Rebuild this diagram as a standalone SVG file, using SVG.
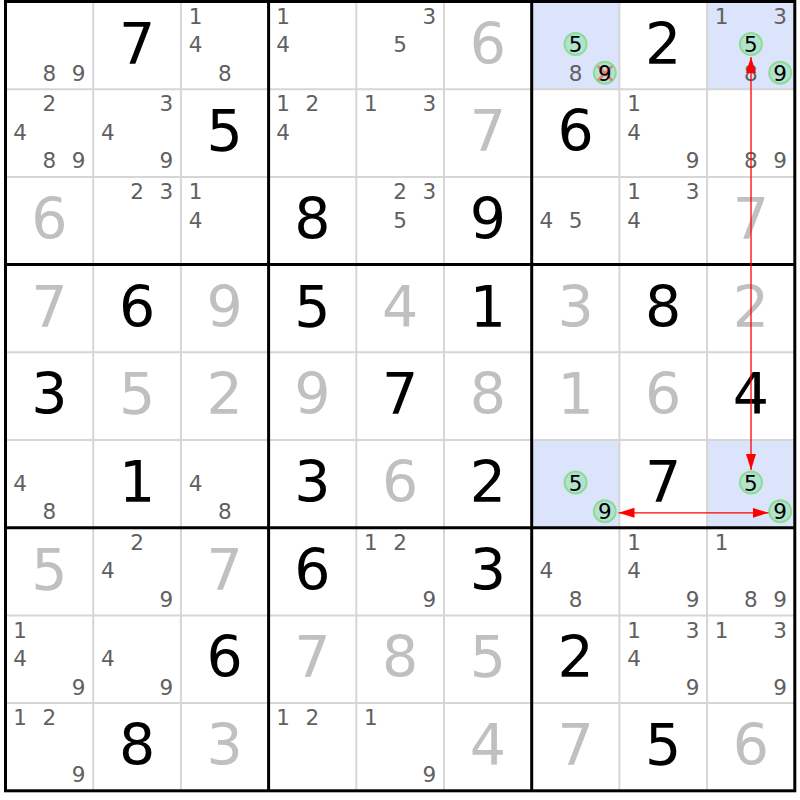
<svg xmlns="http://www.w3.org/2000/svg" width="800" height="800" viewBox="0 0 800 800">
<style>
text{font-family:"DejaVu Sans","Liberation Sans",sans-serif;text-anchor:middle}
.c{font-size:21.5px;fill:#606060}
.k{font-size:21.5px;fill:#000}
.g{font-size:57px;fill:#000}
.s{font-size:57px;fill:#c0c0c0}
.hl{fill:#dbe4fb}
.ring{fill:#b3e3cf;stroke:#8cdc96;stroke-width:2}
.thin{stroke:#d6d6d6;stroke-width:2}
.thick{stroke:#000;stroke-width:3}
.x{stroke:#f07a7a;stroke-width:2.5}
.arrow{stroke:#ff0000;stroke-width:1.3;fill:none}
</style>
<defs>
<marker id="ah" markerUnits="userSpaceOnUse" markerWidth="17" markerHeight="11" refX="16" refY="5" orient="auto-start-reverse" viewBox="0 0 17 11">
<path d="M0,0 L16,5 L0,10 z" fill="#ff0000"/>
</marker>
</defs>
<rect x="0" y="0" width="800" height="800" fill="#fff"/>
<g id="cells">
<g id="r1c1" transform="translate(5.5,1.5)"><text class="c" x="43.85" y="79.3">8</text><text class="c" x="73.1" y="79.3">9</text></g>
<g id="r1c2" transform="translate(93.2,1.5)"><text class="g" x="43.85" y="62">7</text></g>
<g id="r1c3" transform="translate(180.9,1.5)"><text class="c" x="14.6" y="22.3">1</text><text class="c" x="14.6" y="50.8">4</text><text class="c" x="43.85" y="79.3">8</text></g>
<g id="r1c4" transform="translate(268.6,1.5)"><text class="c" x="14.6" y="22.3">1</text><text class="c" x="14.6" y="50.8">4</text></g>
<g id="r1c5" transform="translate(356.3,1.5)"><text class="c" x="73.1" y="22.3">3</text><text class="c" x="43.85" y="50.8">5</text></g>
<g id="r1c6" transform="translate(444,1.5)"><text class="s" x="43.85" y="62">6</text></g>
<g id="r1c7" transform="translate(531.7,1.5)"><rect class="hl" width="87.7" height="87.7"/><circle class="ring" cx="43.85" cy="42.6" r="11"/><text class="k" x="43.85" y="50.5">5</text><text class="c" x="43.85" y="79.3">8</text><circle class="ring" cx="73.1" cy="71.2" r="11"/><path class="x" d="M66.1,64.5 L80.6,79 M80.6,64.5 L66.1,79"/><text class="k" x="73.1" y="79">9</text></g>
<g id="r1c8" transform="translate(619.4,1.5)"><text class="g" x="43.85" y="62">2</text></g>
<g id="r1c9" transform="translate(707.1,1.5)"><rect class="hl" width="87.7" height="87.7"/><text class="c" x="14.6" y="22.3">1</text><text class="c" x="73.1" y="22.3">3</text><circle class="ring" cx="43.85" cy="42.6" r="11"/><text class="k" x="43.85" y="50.5">5</text><text class="c" x="43.85" y="79.3">8</text><circle class="ring" cx="73.1" cy="71.2" r="11"/><text class="k" x="73.1" y="79">9</text></g>

<g id="r2c1" transform="translate(5.5,89.2)"><text class="c" x="43.85" y="22.3">2</text><text class="c" x="14.6" y="50.8">4</text><text class="c" x="43.85" y="79.3">8</text><text class="c" x="73.1" y="79.3">9</text></g>
<g id="r2c2" transform="translate(93.2,89.2)"><text class="c" x="73.1" y="22.3">3</text><text class="c" x="14.6" y="50.8">4</text><text class="c" x="73.1" y="79.3">9</text></g>
<g id="r2c3" transform="translate(180.9,89.2)"><text class="g" x="43.85" y="62">5</text></g>
<g id="r2c4" transform="translate(268.6,89.2)"><text class="c" x="14.6" y="22.3">1</text><text class="c" x="43.85" y="22.3">2</text><text class="c" x="14.6" y="50.8">4</text></g>
<g id="r2c5" transform="translate(356.3,89.2)"><text class="c" x="14.6" y="22.3">1</text><text class="c" x="73.1" y="22.3">3</text></g>
<g id="r2c6" transform="translate(444,89.2)"><text class="s" x="43.85" y="62">7</text></g>
<g id="r2c7" transform="translate(531.7,89.2)"><text class="g" x="43.85" y="62">6</text></g>
<g id="r2c8" transform="translate(619.4,89.2)"><text class="c" x="14.6" y="22.3">1</text><text class="c" x="14.6" y="50.8">4</text><text class="c" x="73.1" y="79.3">9</text></g>
<g id="r2c9" transform="translate(707.1,89.2)"><text class="c" x="43.85" y="79.3">8</text><text class="c" x="73.1" y="79.3">9</text></g>

<g id="r3c1" transform="translate(5.5,176.9)"><text class="s" x="43.85" y="62">6</text></g>
<g id="r3c2" transform="translate(93.2,176.9)"><text class="c" x="43.85" y="22.3">2</text><text class="c" x="73.1" y="22.3">3</text></g>
<g id="r3c3" transform="translate(180.9,176.9)"><text class="c" x="14.6" y="22.3">1</text><text class="c" x="14.6" y="50.8">4</text></g>
<g id="r3c4" transform="translate(268.6,176.9)"><text class="g" x="43.85" y="62">8</text></g>
<g id="r3c5" transform="translate(356.3,176.9)"><text class="c" x="43.85" y="22.3">2</text><text class="c" x="73.1" y="22.3">3</text><text class="c" x="43.85" y="50.8">5</text></g>
<g id="r3c6" transform="translate(444,176.9)"><text class="g" x="43.85" y="62">9</text></g>
<g id="r3c7" transform="translate(531.7,176.9)"><text class="c" x="14.6" y="50.8">4</text><text class="c" x="43.85" y="50.8">5</text></g>
<g id="r3c8" transform="translate(619.4,176.9)"><text class="c" x="14.6" y="22.3">1</text><text class="c" x="73.1" y="22.3">3</text><text class="c" x="14.6" y="50.8">4</text></g>
<g id="r3c9" transform="translate(707.1,176.9)"><text class="s" x="43.85" y="62">7</text></g>

<g id="r4c1" transform="translate(5.5,264.6)"><text class="s" x="43.85" y="62">7</text></g>
<g id="r4c2" transform="translate(93.2,264.6)"><text class="g" x="43.85" y="62">6</text></g>
<g id="r4c3" transform="translate(180.9,264.6)"><text class="s" x="43.85" y="62">9</text></g>
<g id="r4c4" transform="translate(268.6,264.6)"><text class="g" x="43.85" y="62">5</text></g>
<g id="r4c5" transform="translate(356.3,264.6)"><text class="s" x="43.85" y="62">4</text></g>
<g id="r4c6" transform="translate(444,264.6)"><text class="g" x="43.85" y="62">1</text></g>
<g id="r4c7" transform="translate(531.7,264.6)"><text class="s" x="43.85" y="62">3</text></g>
<g id="r4c8" transform="translate(619.4,264.6)"><text class="g" x="43.85" y="62">8</text></g>
<g id="r4c9" transform="translate(707.1,264.6)"><text class="s" x="43.85" y="62">2</text></g>

<g id="r5c1" transform="translate(5.5,352.3)"><text class="g" x="43.85" y="62">3</text></g>
<g id="r5c2" transform="translate(93.2,352.3)"><text class="s" x="43.85" y="62">5</text></g>
<g id="r5c3" transform="translate(180.9,352.3)"><text class="s" x="43.85" y="62">2</text></g>
<g id="r5c4" transform="translate(268.6,352.3)"><text class="s" x="43.85" y="62">9</text></g>
<g id="r5c5" transform="translate(356.3,352.3)"><text class="g" x="43.85" y="62">7</text></g>
<g id="r5c6" transform="translate(444,352.3)"><text class="s" x="43.85" y="62">8</text></g>
<g id="r5c7" transform="translate(531.7,352.3)"><text class="s" x="43.85" y="62">1</text></g>
<g id="r5c8" transform="translate(619.4,352.3)"><text class="s" x="43.85" y="62">6</text></g>
<g id="r5c9" transform="translate(707.1,352.3)"><text class="g" x="43.85" y="62">4</text></g>

<g id="r6c1" transform="translate(5.5,440)"><text class="c" x="14.6" y="50.8">4</text><text class="c" x="43.85" y="79.3">8</text></g>
<g id="r6c2" transform="translate(93.2,440)"><text class="g" x="43.85" y="62">1</text></g>
<g id="r6c3" transform="translate(180.9,440)"><text class="c" x="14.6" y="50.8">4</text><text class="c" x="43.85" y="79.3">8</text></g>
<g id="r6c4" transform="translate(268.6,440)"><text class="g" x="43.85" y="62">3</text></g>
<g id="r6c5" transform="translate(356.3,440)"><text class="s" x="43.85" y="62">6</text></g>
<g id="r6c6" transform="translate(444,440)"><text class="g" x="43.85" y="62">2</text></g>
<g id="r6c7" transform="translate(531.7,440)"><rect class="hl" width="87.7" height="87.7"/><circle class="ring" cx="43.85" cy="42.6" r="11"/><text class="k" x="43.85" y="50.5">5</text><circle class="ring" cx="73.1" cy="71.2" r="11"/><text class="k" x="73.1" y="79">9</text></g>
<g id="r6c8" transform="translate(619.4,440)"><text class="g" x="43.85" y="62">7</text></g>
<g id="r6c9" transform="translate(707.1,440)"><rect class="hl" width="87.7" height="87.7"/><circle class="ring" cx="43.85" cy="42.6" r="11"/><text class="k" x="43.85" y="50.5">5</text><circle class="ring" cx="73.1" cy="71.2" r="11"/><text class="k" x="73.1" y="79">9</text></g>

<g id="r7c1" transform="translate(5.5,527.7)"><text class="s" x="43.85" y="62">5</text></g>
<g id="r7c2" transform="translate(93.2,527.7)"><text class="c" x="43.85" y="22.3">2</text><text class="c" x="14.6" y="50.8">4</text><text class="c" x="73.1" y="79.3">9</text></g>
<g id="r7c3" transform="translate(180.9,527.7)"><text class="s" x="43.85" y="62">7</text></g>
<g id="r7c4" transform="translate(268.6,527.7)"><text class="g" x="43.85" y="62">6</text></g>
<g id="r7c5" transform="translate(356.3,527.7)"><text class="c" x="14.6" y="22.3">1</text><text class="c" x="43.85" y="22.3">2</text><text class="c" x="73.1" y="79.3">9</text></g>
<g id="r7c6" transform="translate(444,527.7)"><text class="g" x="43.85" y="62">3</text></g>
<g id="r7c7" transform="translate(531.7,527.7)"><text class="c" x="14.6" y="50.8">4</text><text class="c" x="43.85" y="79.3">8</text></g>
<g id="r7c8" transform="translate(619.4,527.7)"><text class="c" x="14.6" y="22.3">1</text><text class="c" x="14.6" y="50.8">4</text><text class="c" x="73.1" y="79.3">9</text></g>
<g id="r7c9" transform="translate(707.1,527.7)"><text class="c" x="14.6" y="22.3">1</text><text class="c" x="43.85" y="79.3">8</text><text class="c" x="73.1" y="79.3">9</text></g>

<g id="r8c1" transform="translate(5.5,615.4)"><text class="c" x="14.6" y="22.3">1</text><text class="c" x="14.6" y="50.8">4</text><text class="c" x="73.1" y="79.3">9</text></g>
<g id="r8c2" transform="translate(93.2,615.4)"><text class="c" x="14.6" y="50.8">4</text><text class="c" x="73.1" y="79.3">9</text></g>
<g id="r8c3" transform="translate(180.9,615.4)"><text class="g" x="43.85" y="62">6</text></g>
<g id="r8c4" transform="translate(268.6,615.4)"><text class="s" x="43.85" y="62">7</text></g>
<g id="r8c5" transform="translate(356.3,615.4)"><text class="s" x="43.85" y="62">8</text></g>
<g id="r8c6" transform="translate(444,615.4)"><text class="s" x="43.85" y="62">5</text></g>
<g id="r8c7" transform="translate(531.7,615.4)"><text class="g" x="43.85" y="62">2</text></g>
<g id="r8c8" transform="translate(619.4,615.4)"><text class="c" x="14.6" y="22.3">1</text><text class="c" x="73.1" y="22.3">3</text><text class="c" x="14.6" y="50.8">4</text><text class="c" x="73.1" y="79.3">9</text></g>
<g id="r8c9" transform="translate(707.1,615.4)"><text class="c" x="14.6" y="22.3">1</text><text class="c" x="73.1" y="22.3">3</text><text class="c" x="73.1" y="79.3">9</text></g>

<g id="r9c1" transform="translate(5.5,703.1)"><text class="c" x="14.6" y="22.3">1</text><text class="c" x="43.85" y="22.3">2</text><text class="c" x="73.1" y="79.3">9</text></g>
<g id="r9c2" transform="translate(93.2,703.1)"><text class="g" x="43.85" y="62">8</text></g>
<g id="r9c3" transform="translate(180.9,703.1)"><text class="s" x="43.85" y="62">3</text></g>
<g id="r9c4" transform="translate(268.6,703.1)"><text class="c" x="14.6" y="22.3">1</text><text class="c" x="43.85" y="22.3">2</text></g>
<g id="r9c5" transform="translate(356.3,703.1)"><text class="c" x="14.6" y="22.3">1</text><text class="c" x="73.1" y="79.3">9</text></g>
<g id="r9c6" transform="translate(444,703.1)"><text class="s" x="43.85" y="62">4</text></g>
<g id="r9c7" transform="translate(531.7,703.1)"><text class="s" x="43.85" y="62">7</text></g>
<g id="r9c8" transform="translate(619.4,703.1)"><text class="g" x="43.85" y="62">5</text></g>
<g id="r9c9" transform="translate(707.1,703.1)"><text class="s" x="43.85" y="62">6</text></g>
</g>
<g id="grid">
<path class="thin" d="M93.2,1.5V790.8 M180.9,1.5V790.8 M356.3,1.5V790.8 M444,1.5V790.8 M619.4,1.5V790.8 M707.1,1.5V790.8 M5.5,89.2H794.8 M5.5,176.9H794.8 M5.5,352.3H794.8 M5.5,440H794.8 M5.5,615.4H794.8 M5.5,703.1H794.8"/>
<path class="thick" d="M268.6,1.5V790.8 M531.7,1.5V790.8 M5.5,264.6H794.8 M5.5,527.7H794.8"/>
<rect class="thick" x="5.5" y="1.5" width="789.3" height="789.3" fill="none"/>
</g>
<g id="connectors">
<line class="arrow" x1="751" y1="470" x2="751" y2="57" marker-start="url(#ah)" marker-end="url(#ah)"/>
<line class="arrow" x1="618.5" y1="512.8" x2="768.5" y2="512.8" marker-start="url(#ah)" marker-end="url(#ah)"/>
</g>
</svg>
